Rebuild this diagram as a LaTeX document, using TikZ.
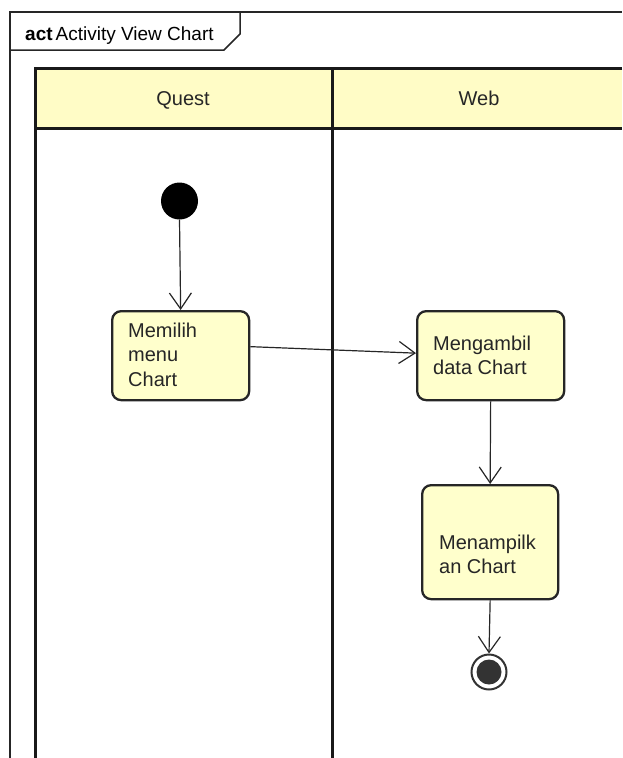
\documentclass[tikz,border=0pt]{standalone}
\usepackage{fontspec}
\setmainfont{Liberation Sans}
\usetikzlibrary{arrows.meta}
\definecolor{umlyellow}{HTML}{FFFFCC}
\definecolor{hdryellow}{HTML}{FFFCC6}
\definecolor{endgray}{HTML}{333333}
\begin{document}
\begin{tikzpicture}[x=1pt,y=-1pt,
  actbox/.style={draw=black!85, line width=2.3pt, rounded corners=9pt, fill=umlyellow, inner sep=0pt, anchor=north west},
  txt/.style={font=\fontsize{20}{24}\selectfont, text=black!85, inner sep=0pt, anchor=base west},
  flow/.style={draw=black!85, line width=1.2pt, -{Straight Barb[length=16pt,width=22pt,line width=1.2pt]}},
  lane/.style={draw=black!90, line width=3pt},
  hdr/.style={font=\fontsize{20}{24}\selectfont, text=black!85, inner sep=0pt, anchor=base},
  framel/.style={draw=black!85, line width=1.5pt}]
\useasboundingbox (0,0) rectangle (622,758);
% frame
\draw[framel] (10,758) -- (10,12) -- (622,12);
\draw[framel] (10,50) -- (224,50) -- (240,34) -- (240,12);
\node[font=\fontsize{19}{22}\selectfont, inner sep=0pt, anchor=base west] (title) at (25,40) {\textbf{act}\hspace{3pt}Activity View Chart};
% swimlanes
\fill[hdryellow] (35,68) rectangle (622,128);
\draw[lane] (622,68) -- (35,68) -- (35,758);
\draw[lane] (35,128) -- (622,128);
\draw[lane] (332,68) -- (332,758);
\node[hdr] (quest) at (183,105) {Quest};
\node[hdr] (web) at (479,105) {Web};
% initial node
\node[circle, fill=black, inner sep=0pt, minimum size=37pt] (start) at (179.5,201) {};
% activities
\node[actbox, minimum width=137pt, minimum height=89pt] (a1) at (111,310) {};
\node[txt] (a1l1) at (128,337) {Memilih};
\node[txt] (a1l2) at (128,361) {menu};
\node[txt] (a1l3) at (128,386) {Chart};
\node[actbox, minimum width=147pt, minimum height=89pt] (a2) at (416,310) {};
\node[txt] (a2l1) at (433,350) {Mengambil};
\node[txt] (a2l2) at (433,374) {data Chart};
\node[actbox, minimum width=136pt, minimum height=114pt] (a3) at (421,484) {};
\node[txt] (a3l1) at (439,549) {Menampilk};
\node[txt] (a3l2) at (439,573) {an Chart};
% final node
\node[circle, draw=endgray, line width=2pt, fill=white, inner sep=0pt, minimum size=35pt] (end) at (489,672) {};
\node[circle, fill=endgray, inner sep=0pt, minimum size=25pt] (endin) at (end.center) {};
% flows
\draw[flow] (start.south) -- (a1.north);
\draw[flow] ([yshift=9pt]a1.east) -- ([yshift=2.5pt]a2.west);
\draw[flow] (a2.south) -- (a3.north);
\draw[flow] (a3.south) -- (end.north);
\end{tikzpicture}
\end{document}
